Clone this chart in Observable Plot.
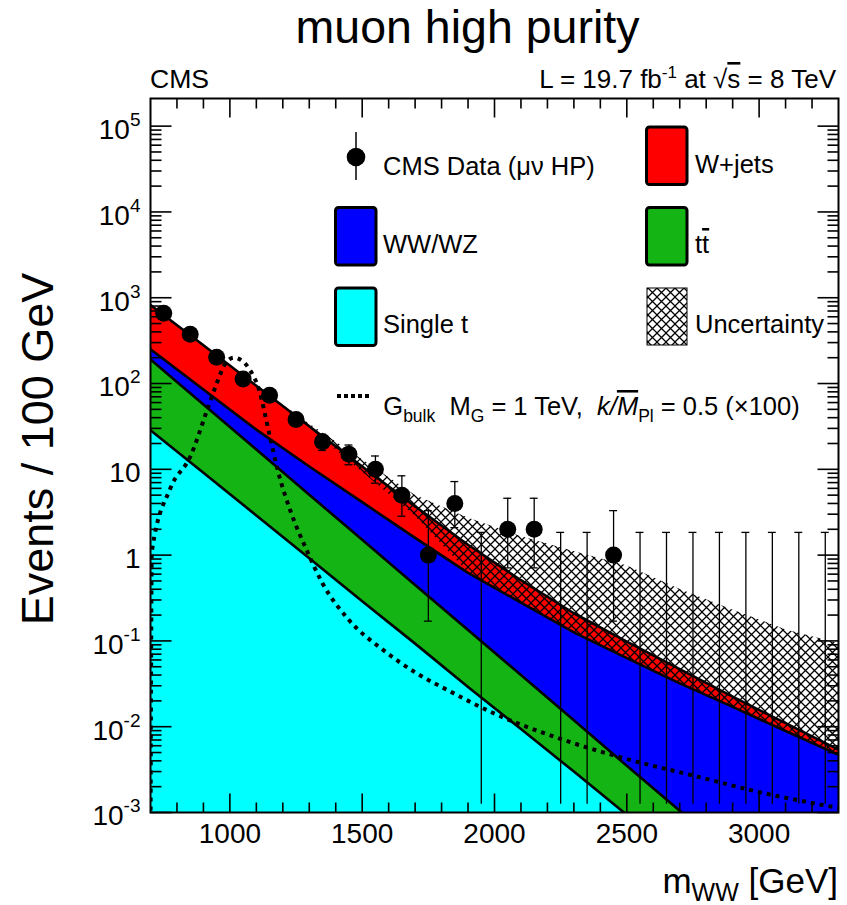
<!DOCTYPE html>
<html><head><meta charset="utf-8">
<script src="https://cdn.jsdelivr.net/npm/d3@7"></script>
<script src="https://cdn.jsdelivr.net/npm/@observablehq/plot@0.6"></script>
<style>body{margin:0;background:#fff} svg{display:block}</style>
</head><body><div id="chart"></div>
<script>
// ---------- data ----------
const massGrid    = [700, 900, 1100, 1300, 1500, 1700, 1900, 2100, 2300, 2500, 2700, 2900, 3100, 3300];
const singleTTop  = [28.6, 9.1, 2.9, 0.92, 0.29, 0.093, 0.029, 0.0094, 0.0030, 0.00094, 0.0003, 0.000095, 0.00003, 0.0000095];
const ttbarTop    = [191, 57, 17, 5.06, 1.51, 0.449, 0.134, 0.040, 0.0119, 0.0035, 0.00105, 0.00031, 0.000093, 0.000028];
const wwwzTop     = [251, 85, 29, 10.8, 4.14, 1.59, 0.62, 0.28, 0.126, 0.063, 0.032, 0.017, 0.0089, 0.0047];
const wjetsTop    = [824, 279, 94, 31.8, 10.8, 3.7, 1.32, 0.51, 0.21, 0.098, 0.047, 0.0224, 0.011, 0.0054];

const hatchMass   = [1100, 1300, 1500, 1700, 1900, 2100, 2300, 2500, 2700, 2900, 3100, 3300];
const hatchUpper  = [95, 34, 13, 5.0, 2.7, 1.65, 1.1, 0.75, 0.40, 0.23, 0.135, 0.093];
const hatchLower  = [93, 30.6, 9.3, 2.85, 0.63, 0.28, 0.126, 0.063, 0.032, 0.017, 0.0089, 0.0047];

const signalMass  = [700, 705, 775, 850, 915, 950, 985, 1015, 1045, 1075, 1110, 1150, 1180, 1230, 1290, 1350, 1450, 1580, 1700, 1830, 2000, 2250, 2500, 2750, 3000, 3300];
const signalValue = [0.0004, 1.1, 6, 14, 50, 100, 175, 200, 185, 145, 85, 25, 10, 3.2, 1.15, 0.47, 0.175, 0.078, 0.043, 0.026, 0.0142, 0.0072, 0.0042, 0.0027, 0.00173, 0.00113];

const dataMass  = [750, 850, 950, 1050, 1150, 1250, 1350, 1450, 1550, 1650, 1750, 1850, 1950, 2050, 2150, 2250, 2350, 2450, 2550, 2650, 2750, 2850, 2950, 3050, 3150, 3250];
const dataCount = [660, 375, 202, 113, 73, 38, 21, 15, 10, 5, 1, 4, 0, 2, 2, 0, 0, 1, 0, 0, 0, 0, 0, 0, 0, 0];
const dataLow   = [634, 356, 188, 102, 64.5, 32, 16.6, 11.3, 6.9, 2.84, 0.17, 2.09, 0.00125, 0.71, 0.71, 0.00125, 0.00125, 0.17, 0.00125, 0.00125, 0.00125, 0.00125, 0.00125, 0.00125, 0.00125, 0.00125];
const dataHigh  = [686, 395, 216, 124, 82, 45, 25.6, 19.2, 14.3, 8.4, 3.3, 7.2, 1.84, 4.6, 4.6, 1.84, 1.84, 3.3, 1.84, 1.84, 1.84, 1.84, 1.84, 1.84, 1.84, 1.84];

const xMajorTicks = [1000, 1500, 2000, 2500, 3000];
const xMinorTicks = [800, 900, 1100, 1200, 1300, 1400, 1600, 1700, 1800, 1900, 2100, 2200, 2300, 2400, 2600, 2700, 2800, 2900, 3100, 3200];
const yMajorTicks = [1e-3, 1e-2, 1e-1, 1, 10, 1e2, 1e3, 1e4, 1e5];
const yTickLabels = ["10^-3", "10^-2", "10^-1", "1", "10", "10^2", "10^3", "10^4", "10^5"];
const yMinorTicks = yMajorTicks.slice(0, -1).flatMap(d => [2,3,4,5,6,7,8,9].map(k => k * d));

// ---------- tables ----------
const bg = massGrid.map((m, i) => ({m, st: singleTTop[i], tt: ttbarTop[i], vv: wwwzTop[i], wj: wjetsTop[i]}));
const band = hatchMass.map((m, i) => ({m, lo: hatchLower[i], hi: hatchUpper[i]}));
const sig = signalMass.map((m, i) => ({m, v: signalValue[i]}));
const obs = dataMass.map((m, i) => ({m, n: dataCount[i], lo: dataLow[i], hi: dataHigh[i]}));
const obsNZ = obs.filter(d => d.n > 0);

const yFloor = 1e-6;
const capHalf = 15;
const xMin = 700, xMax = 3300, yMin = 1e-3, yMax = 2.1e5;

const tickSym = (dx, dy) => ({draw(ctx) { ctx.moveTo(0, 0); ctx.lineTo(dx, dy); }});
const tickStyle = {stroke: "black", fill: "none", strokeWidth: 1.6};

const RED = "#ff0000", BLUE = "#0000ff", GREEN = "#15b415", CYAN = "#00ffff";
const FONT = "'Liberation Sans', Arial, Helvetica, sans-serif";

const plot = Plot.plot({
  width: 847, height: 905,
  marginLeft: 150, marginRight: 9, marginTop: 98, marginBottom: 93,
  style: {fontFamily: FONT, background: "white", color: "black", overflow: "visible"},
  x: {type: "linear", domain: [xMin, xMax], axis: null},
  y: {type: "log", domain: [yMin, yMax], axis: null},
  marks: [
    Plot.area(bg, {x1: "m", y1: yFloor, y2: "wj", fill: RED, clip: true}),
    Plot.area(bg, {x1: "m", y1: yFloor, y2: "vv", fill: BLUE, clip: true}),
    Plot.area(bg, {x1: "m", y1: yFloor, y2: "tt", fill: GREEN, clip: true}),
    Plot.area(bg, {x1: "m", y1: yFloor, y2: "st", fill: CYAN, clip: true}),
    Plot.line(bg, {x: "m", y: "wj", stroke: "black", strokeWidth: 2.6, clip: true}),
    Plot.line(bg, {x: "m", y: "vv", stroke: "black", strokeWidth: 2.6, clip: true}),
    Plot.line(bg, {x: "m", y: "tt", stroke: "black", strokeWidth: 2.6, clip: true}),
    Plot.line(bg, {x: "m", y: "st", stroke: "black", strokeWidth: 2.6, clip: true}),
    Plot.area(band, {x1: "m", y1: "lo", y2: "hi", fill: "url(#xhatch)", clip: true}),
    Plot.line(sig, {x: "m", y: "v", stroke: "black", strokeWidth: 4, strokeDasharray: "4,5", strokeLinecap: "butt", curve: "monotone-x", clip: true}),
    Plot.ruleX(obs, {x: "m", y1: "lo", y2: "hi", stroke: "black", strokeWidth: 1.3, clip: true}),
    Plot.ruleY(obs, {y: "hi", x1: d => d.m - capHalf, x2: d => d.m + capHalf, stroke: "black", strokeWidth: 1.3}),
    Plot.ruleY(obsNZ, {y: "lo", x1: d => d.m - capHalf, x2: d => d.m + capHalf, stroke: "black", strokeWidth: 1.3}),
    Plot.dot(obsNZ, {x: "m", y: "n", r: 8.5, fill: "black"}),
    Plot.frame({stroke: "black", strokeWidth: 2}),
    // ticks (inward), bottom/top/left/right
    Plot.dot(xMajorTicks, {x: d => d, y: yMin, symbol: tickSym(0, -19), ...tickStyle}),
    Plot.dot(xMinorTicks, {x: d => d, y: yMin, symbol: tickSym(0, -10), ...tickStyle}),
    Plot.dot(xMajorTicks, {x: d => d, y: yMax, symbol: tickSym(0, 19), ...tickStyle}),
    Plot.dot(xMinorTicks, {x: d => d, y: yMax, symbol: tickSym(0, 10), ...tickStyle}),
    Plot.dot(yMajorTicks, {x: xMin, y: d => d, symbol: tickSym(21, 0), ...tickStyle}),
    Plot.dot(yMinorTicks, {x: xMin, y: d => d, symbol: tickSym(11, 0), ...tickStyle}),
    Plot.dot(yMajorTicks, {x: xMax, y: d => d, symbol: tickSym(-21, 0), ...tickStyle}),
    Plot.dot(yMinorTicks, {x: xMax, y: d => d, symbol: tickSym(-11, 0), ...tickStyle}),
    // tick labels
    Plot.text(xMajorTicks, {x: d => d, y: yMin, text: d => String(d), dy: 22, fontSize: 28, fill: "black"}),
    Plot.text(yMajorTicks, {x: xMin, y: d => d, text: (d, i) => yTickLabels[i], textAnchor: "end", dx: -10, dy: 4, fontSize: 28, fill: "black"})
  ]
});

document.getElementById("chart").appendChild(plot);
const svg = d3.select(plot);

// superscripts on y tick labels
svg.selectAll("text").each(function() {
  const m = /^10\^(-?\d+)$/.exec(this.textContent);
  if (m) {
    const el = d3.select(this);
    el.text("10");
    el.append("tspan").attr("dy", -13).attr("font-size", 19).text(m[1]);
  }
});

// hatch pattern
const defs = svg.insert("defs", ":first-child");
defs.append("pattern").attr("id", "xhatch").attr("patternUnits", "userSpaceOnUse")
  .attr("width", 9).attr("height", 9)
  .append("path").attr("d", "M-1,-1L10,10M10,-1L-1,10").attr("stroke", "black").attr("stroke-width", 1.25).attr("fill", "none");

const ann = svg.append("g").attr("font-family", FONT).attr("fill", "black")
  .attr("text-anchor", "start").style("white-space", "pre");

// title & labels
ann.append("text").attr("x", 467.5).attr("y", 43).attr("text-anchor", "middle").attr("font-size", 46.5).text("muon high purity");
ann.append("text").attr("x", 150).attr("y", 88).attr("font-size", 26.6).text("CMS");
{
  const t = ann.append("text").attr("x", 836).attr("y", 88).attr("text-anchor", "end").attr("font-size", 26);
  t.append("tspan").text("L = 19.7 fb");
  t.append("tspan").attr("dy", -10).attr("font-size", 17).text("-1");
  t.append("tspan").attr("dy", 10).text(" at \u221A");
  t.append("tspan").style("text-decoration", "overline").text("s");
  t.append("tspan").text(" = 8 TeV");
}
ann.append("text").attr("transform", "translate(53,449) rotate(-90)").attr("text-anchor", "middle").attr("font-size", 45).text("Events / 100 GeV");
{
  const t = ann.append("text").attr("x", 838).attr("y", 893).attr("text-anchor", "end").attr("font-size", 35);
  t.append("tspan").text("m");
  t.append("tspan").attr("dy", 8).attr("font-size", 25).text("WW");
  t.append("tspan").attr("dy", -8).text(" [GeV]");
}

// legend
const LF = 25.5;
const leg = ann.append("g").attr("font-size", LF).attr("text-anchor", "start");
leg.append("line").attr("x1", 356).attr("x2", 356).attr("y1", 132).attr("y2", 180).attr("stroke", "black").attr("stroke-width", 1.5);
leg.append("circle").attr("cx", 356).attr("cy", 157).attr("r", 9.3).attr("fill", "black");
leg.append("text").attr("x", 383).attr("y", 175).text("CMS Data (\u03BC\u03BD HP)");

const box = (x, y, fill) => leg.append("rect").attr("x", x).attr("y", y).attr("width", 40.5).attr("height", 57.5)
  .attr("rx", 3).attr("fill", fill).attr("stroke", "black").attr("stroke-width", 3);
box(335.5, 207.5, BLUE);
box(335.5, 288, CYAN);
box(646.5, 127, RED);
box(646.5, 207.5, GREEN);
leg.append("rect").attr("x", 647).attr("y", 288).attr("width", 40).attr("height", 57).attr("fill", "url(#xhatch)").attr("stroke", "black").attr("stroke-width", 1);

leg.append("text").attr("x", 383).attr("y", 253.3).text("WW/WZ");
leg.append("text").attr("x", 383).attr("y", 333.3).text("Single t");
leg.append("text").attr("x", 695).attr("y", 173.3).text("W+jets");
{
  const t = leg.append("text").attr("x", 695).attr("y", 253);
  t.append("tspan").text("t");
  t.append("tspan").style("text-decoration", "overline").text("t");
}
leg.append("text").attr("x", 695).attr("y", 333.3).text("Uncertainty");

leg.append("line").attr("x1", 337).attr("x2", 372).attr("y1", 396).attr("y2", 396)
  .attr("stroke", "black").attr("stroke-width", 4).attr("stroke-dasharray", "4,3");
{
  const t = leg.append("text").attr("x", 383.3).attr("y", 415);
  t.append("tspan").text("G");
  t.append("tspan").attr("dy", 6.7).attr("font-size", 17.5).text("bulk");
  t.append("tspan").attr("dy", -6.7).text("  M");
  t.append("tspan").attr("dy", 6.7).attr("font-size", 17.5).text("G");
  t.append("tspan").attr("dy", -6.7).text(" = 1 TeV,  ");
  t.append("tspan").attr("font-style", "italic").text("k/");
  t.append("tspan").attr("font-style", "italic").style("text-decoration", "overline").text("M");
  t.append("tspan").attr("dy", 6.7).attr("font-size", 17.5).text("Pl");
  t.append("tspan").attr("dy", -6.7).text(" = 0.5 (\u00D7100)");
}
</script>
</body></html>
